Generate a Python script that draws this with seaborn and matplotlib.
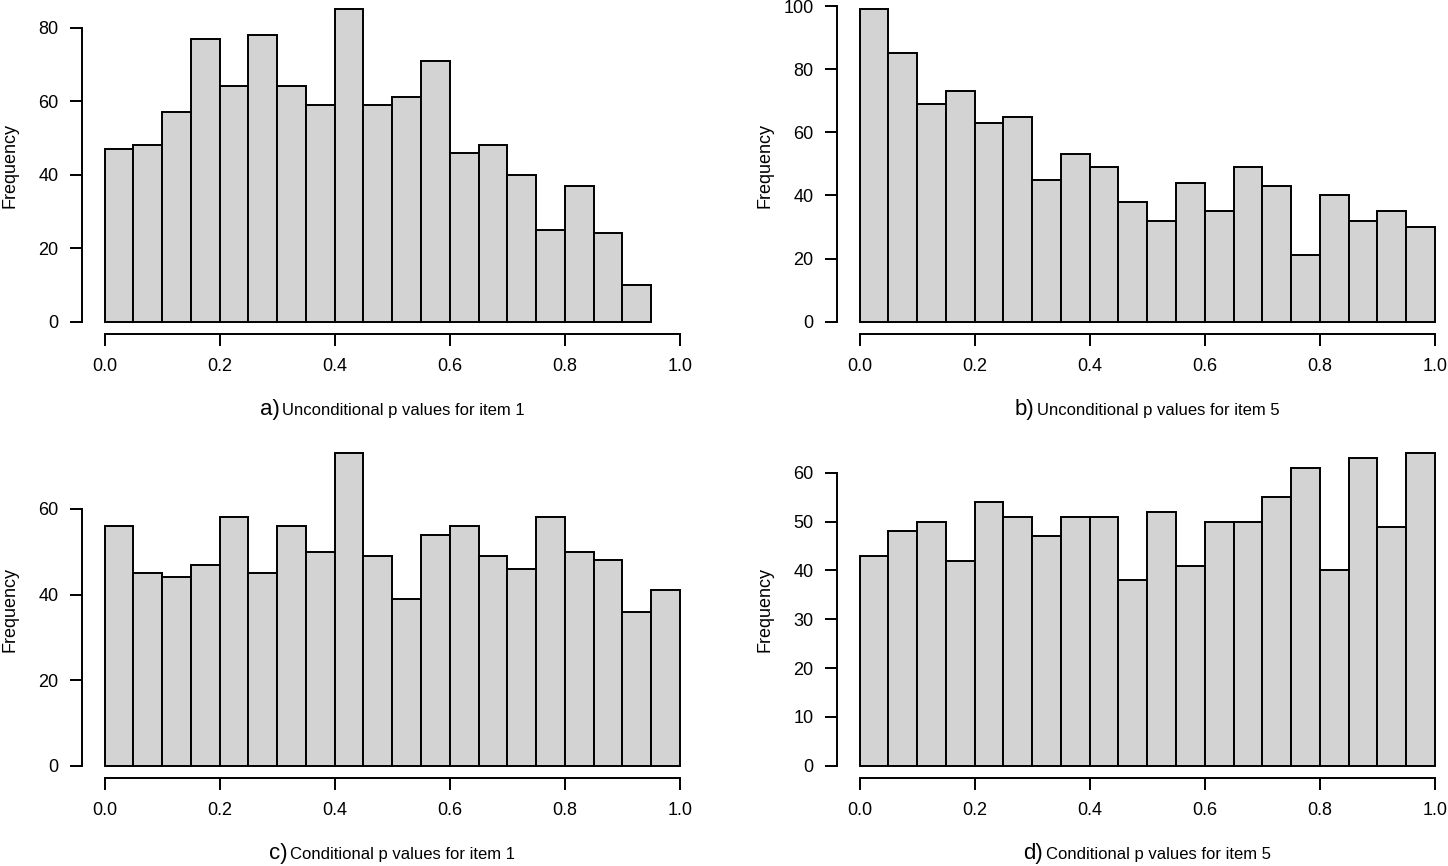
import numpy as np
import pandas as pd
import seaborn as sns
import matplotlib
matplotlib.use("Agg")
import matplotlib.pyplot as plt
from matplotlib.offsetbox import TextArea, HPacker, AnchoredOffsetbox

# bin counts (bins of width 0.05 starting at 0)
bin_width = 0.05
counts_a = [47, 48, 57, 77, 64, 78, 64, 59, 85, 59, 61, 71, 46, 48, 40, 25, 37, 24, 10]
counts_b = [99, 85, 69, 73, 63, 65, 45, 53, 49, 38, 32, 44, 35, 49, 43, 21, 40, 32, 35, 30]
counts_c = [56, 45, 44, 47, 58, 45, 56, 50, 73, 49, 39, 54, 56, 49, 46, 58, 50, 48, 36, 41]
counts_d = [43, 48, 50, 42, 54, 51, 47, 51, 51, 38, 52, 41, 50, 50, 55, 61, 40, 63, 49, 64]

panel_tags = ["a)", "b)", "c)", "d)"]
captions = [
    "Unconditional p values for item 1",
    "Unconditional p values for item 5",
    "Conditional p values for item 1",
    "Conditional p values for item 5",
]
x_ticks = [0.0, 0.2, 0.4, 0.6, 0.8, 1.0]
y_ticks = [
    [0, 20, 40, 60, 80],
    [0, 20, 40, 60, 80, 100],
    [0, 20, 40, 60],
    [0, 10, 20, 30, 40, 50, 60],
]

sns.set_style("ticks")
plt.rcParams["font.family"] = ["Liberation Sans", "DejaVu Sans"]
plt.rcParams["axes.linewidth"] = 1.4
plt.rcParams["xtick.major.width"] = 1.4
plt.rcParams["ytick.major.width"] = 1.4
plt.rcParams["xtick.major.size"] = 8.5
plt.rcParams["ytick.major.size"] = 8.5
plt.rcParams["xtick.major.pad"] = 8.5
plt.rcParams["ytick.major.pad"] = 8
plt.rcParams["xtick.color"] = "black"
plt.rcParams["ytick.color"] = "black"
plt.rcParams["axes.edgecolor"] = "black"
plt.rcParams["axes.labelcolor"] = "black"
plt.rcParams["text.color"] = "black"

fig = plt.figure(figsize=(14.48, 8.66), dpi=100)

# axes rectangles (figure fractions), R-style plot regions
rects = [
    [0.0563, 0.6141, 0.4292, 0.3896],
    [0.5777, 0.6141, 0.4292, 0.3896],
    [0.0563, 0.1014, 0.4292, 0.3896],
    [0.5777, 0.1014, 0.4292, 0.3896],
]

all_counts = [counts_a, counts_b, counts_c, counts_d]

for i, counts in enumerate(all_counts):
    ax = fig.add_axes(rects[i])
    nbins = len(counts)
    centers = (np.arange(nbins) + 0.5) * bin_width
    df = pd.DataFrame({"p": centers, "n": counts})
    sns.histplot(data=df, x="p", weights="n", bins=nbins,
                 binrange=(0, nbins * bin_width), color="#d3d3d3",
                 edgecolor="black", linewidth=1.4, alpha=1, ax=ax)

    ymax = df["n"].max()
    ax.set_xlim(-0.04, 1.04)
    ax.set_ylim(-0.04 * ymax, 1.04 * ymax)
    ax.set_xticks(x_ticks)
    ax.set_xticklabels([f"{t:.1f}" for t in x_ticks], fontsize=13)
    ax.set_yticks(y_ticks[i])
    ax.set_yticklabels([str(t) for t in y_ticks[i]], fontsize=13)
    sns.despine(ax=ax, trim=True)

    ax.set_xlabel("")
    ax.set_ylabel("Frequency", fontsize=13)
    ax.yaxis.set_label_coords(-0.101, 0.5)

    # caption: bigger panel tag followed by the description
    tag = TextArea(panel_tags[i], textprops=dict(fontsize=16, color="black"))
    desc = TextArea(captions[i], textprops=dict(fontsize=12, color="black"))
    box = HPacker(children=[tag, desc], align="baseline", pad=0, sep=2)
    anchored = AnchoredOffsetbox(loc="center", child=box, pad=0, borderpad=0,
                                 frameon=False, bbox_to_anchor=(0.5, -0.222),
                                 bbox_transform=ax.transAxes)
    ax.add_artist(anchored)

plt.savefig("out.png", dpi=100)
